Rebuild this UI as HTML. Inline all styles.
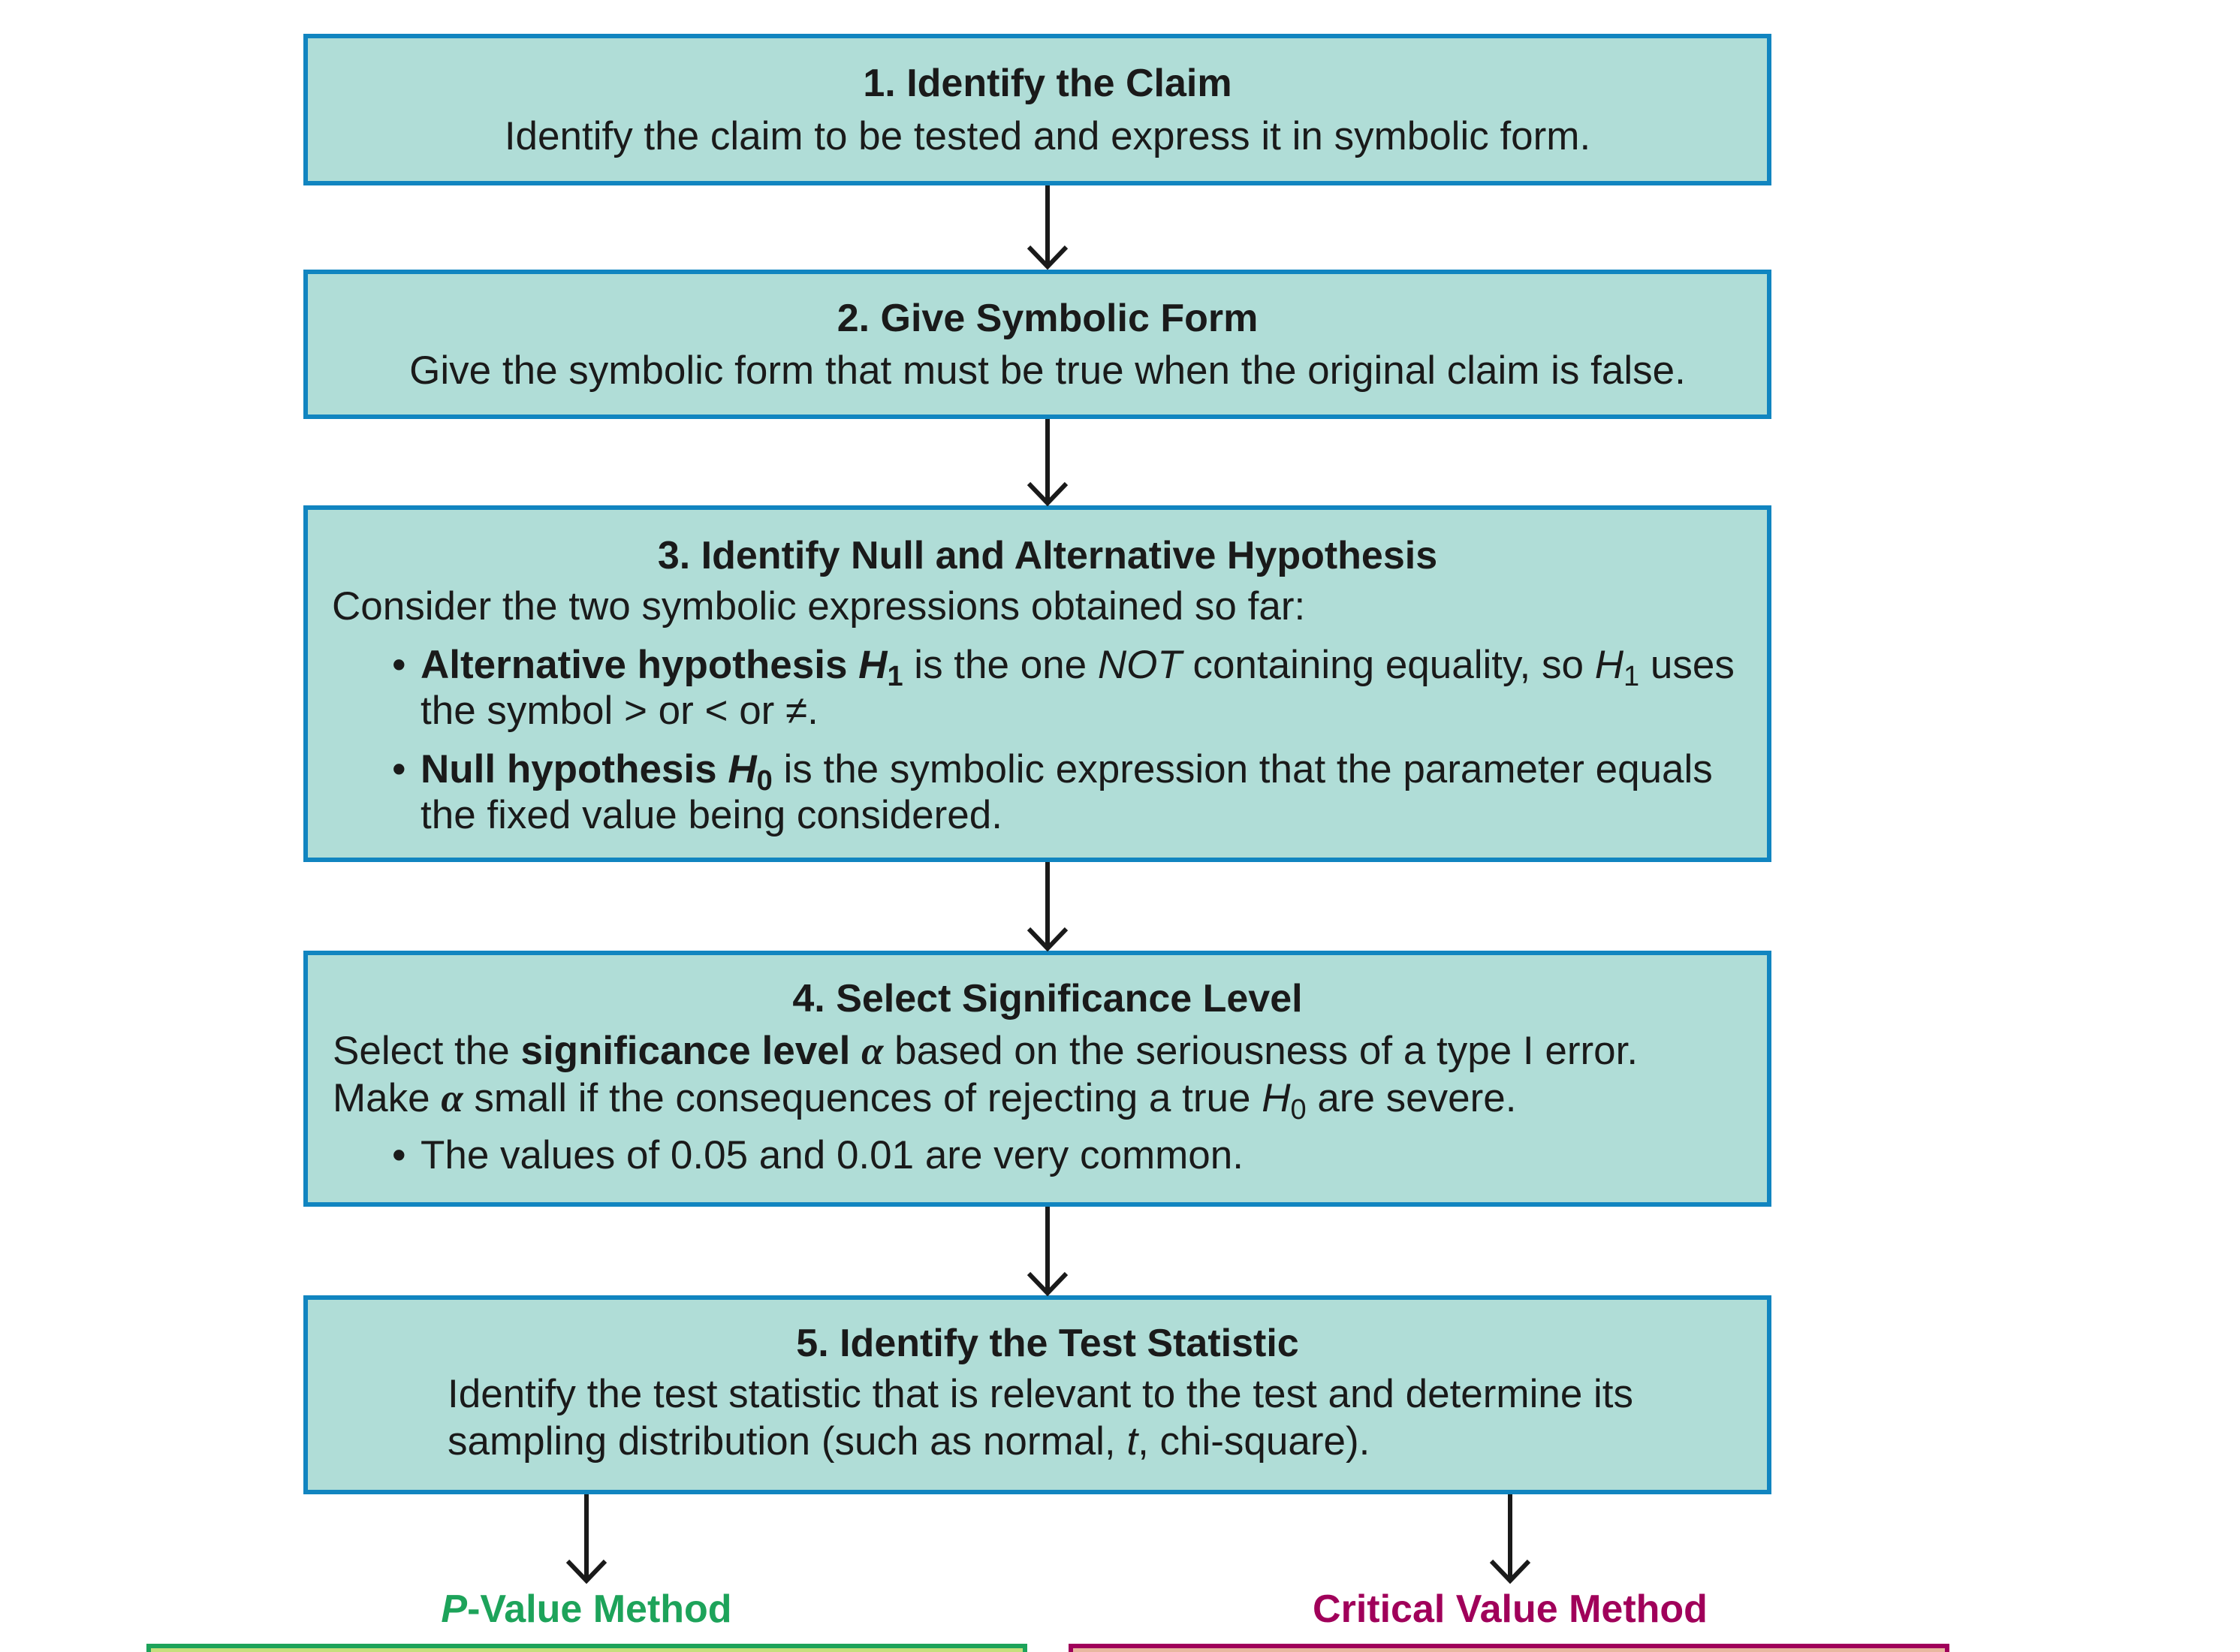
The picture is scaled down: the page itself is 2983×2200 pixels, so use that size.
<!DOCTYPE html>
<html><head><meta charset="utf-8"><style>
html,body{margin:0;padding:0;background:#fff;width:2983px;height:2200px;overflow:hidden}
svg{display:block}
text{font-family:"Liberation Sans",Arial,sans-serif;font-size:53px;fill:#1a1a1a}
.b{font-weight:bold}
.h{font-weight:bold;font-size:52px}
.i{font-style:italic}
</style></head><body>
<svg width="2983" height="2200" viewBox="0 0 2983 2200" xmlns="http://www.w3.org/2000/svg">
<g fill="#b0ddd7" stroke="#1185c0" stroke-width="6">
<rect x="407" y="48" width="1949" height="196"/>
<rect x="407" y="362" width="1949" height="193"/>
<rect x="407" y="676" width="1949" height="469"/>
<rect x="407" y="1269" width="1949" height="335"/>
<rect x="407" y="1728" width="1949" height="259"/>
</g>
<rect x="198" y="2192" width="1167" height="20" fill="#c5df7c" stroke="#1da35a" stroke-width="6"/>
<rect x="1426" y="2192" width="1167" height="20" fill="#e8b89f" stroke="#a0005a" stroke-width="6"/>
<g stroke="#1a1a1a" stroke-width="6" fill="none">
<path d="M1395 247V355M1370 329L1395 355L1420 329"/>
<path d="M1395 558V670M1370 644L1395 670L1420 644"/>
<path d="M1395 1148V1263M1370 1237L1395 1263L1420 1237"/>
<path d="M1395 1607V1722M1370 1696L1395 1722L1420 1696"/>
<path d="M781 1990V2105M756 2079L781 2105L806 2079"/>
<path d="M2011 1990V2105M1986 2079L2011 2105L2036 2079"/>
</g>
<text x="1395" y="128" text-anchor="middle" class="h">1. Identify the Claim</text>
<text x="1395" y="199" text-anchor="middle">Identify the claim to be tested and express it in symbolic form.</text>
<text x="1395" y="441" text-anchor="middle" class="h">2. Give Symbolic Form</text>
<text x="1395" y="511" text-anchor="middle">Give the symbolic form that must be true when the original claim is false.</text>
<text x="1395" y="757" text-anchor="middle" class="h">3. Identify Null and Alternative Hypothesis</text>
<text x="442" y="825">Consider the two symbolic expressions obtained so far:</text>
<text x="522" y="903">•</text>
<text x="560" y="903"><tspan class="b">Alternative hypothesis </tspan><tspan class="b i">H</tspan><tspan class="b" font-size="38" dy="10">1</tspan><tspan dy="-10"> is the one </tspan><tspan class="i">NOT</tspan><tspan> containing equality, so </tspan><tspan class="i">H</tspan><tspan font-size="38" dy="10">1</tspan><tspan dy="-10"> uses</tspan></text>
<text x="560" y="964">the symbol &gt; or &lt; or ≠.</text>
<text x="522" y="1042">•</text>
<text x="560" y="1042"><tspan class="b">Null hypothesis </tspan><tspan class="b i">H</tspan><tspan class="b" font-size="38" dy="10">0</tspan><tspan dy="-10"> is the symbolic expression that the parameter equals</tspan></text>
<text x="560" y="1103">the fixed value being considered.</text>
<text x="1395" y="1347" text-anchor="middle" class="h">4. Select Significance Level</text>
<text x="443" y="1417">Select the <tspan class="b">significance level </tspan><tspan class="b i" font-family="Liberation Serif">α</tspan> based on the seriousness of a type I error.</text>
<text x="443" y="1480">Make <tspan class="b i" font-family="Liberation Serif">α</tspan> small if the consequences of rejecting a true <tspan class="i">H</tspan><tspan font-size="38" dy="10">0</tspan><tspan dy="-10"> are severe.</tspan></text>
<text x="522" y="1556">•</text>
<text x="560" y="1556">The values of 0.05 and 0.01 are very common.</text>
<text x="1395" y="1806" text-anchor="middle" class="h">5. Identify the Test Statistic</text>
<text x="596" y="1874">Identify the test statistic that is relevant to the test and determine its</text>
<text x="596" y="1937">sampling distribution (such as normal, <tspan class="i">t</tspan>, chi-square).</text>
<text x="781" y="2160" text-anchor="middle" class="h" style="fill:#1da35a"><tspan class="i">P</tspan>-Value Method</text>
<text x="2011" y="2160" text-anchor="middle" class="h" style="fill:#a0005a">Critical Value Method</text>
</svg>
</body></html>
